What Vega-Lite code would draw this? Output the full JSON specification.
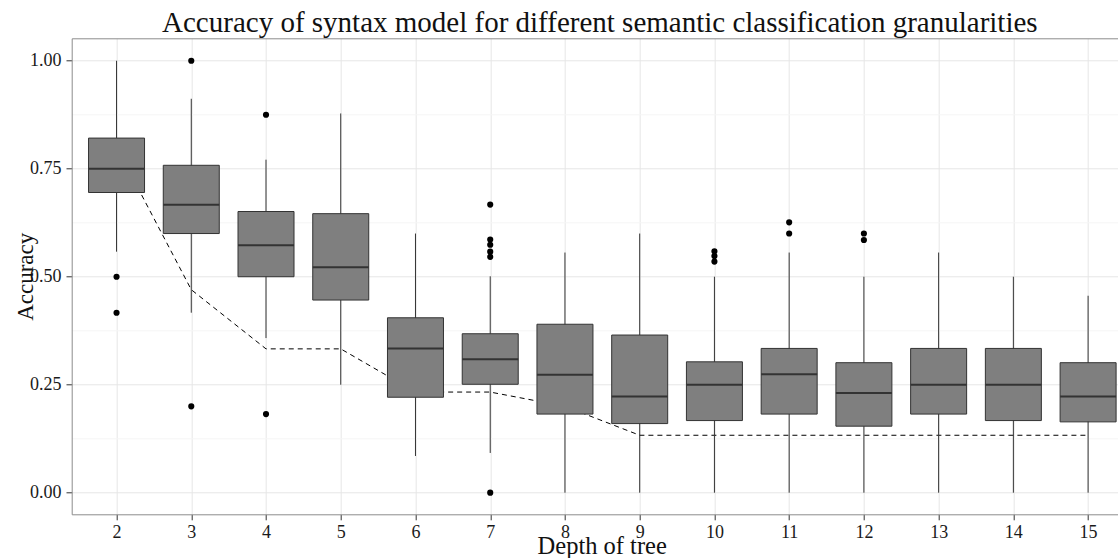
{
  "$schema": "https://vega.github.io/schema/vega-lite/v6.json",
  "width": 1046.3,
  "height": 476,
  "autosize": {"type": "none"},
  "padding": {"left": 71.7, "top": 38.3, "right": 0, "bottom": 43.7},
  "title": {
    "text": "Accuracy of syntax model for different semantic classification granularities",
    "font": "Liberation Serif",
    "fontSize": 29,
    "fontWeight": "normal",
    "color": "#111111",
    "anchor": "middle",
    "frame": "group",
    "baseline": "alphabetic",
    "offset": 5,
    "dy": 28,
    "dx": 5
  },
  "datasets": {
    "boxes": [
      {"depth": 2, "lo": 0.558, "q1": 0.695, "med": 0.75, "q3": 0.821, "hi": 1.0},
      {"depth": 3, "lo": 0.4167, "q1": 0.6, "med": 0.6667, "q3": 0.758, "hi": 0.912},
      {"depth": 4, "lo": 0.358, "q1": 0.5, "med": 0.573, "q3": 0.651, "hi": 0.771},
      {"depth": 5, "lo": 0.25, "q1": 0.446, "med": 0.522, "q3": 0.646, "hi": 0.878},
      {"depth": 6, "lo": 0.085, "q1": 0.221, "med": 0.334, "q3": 0.405, "hi": 0.6},
      {"depth": 7, "lo": 0.092, "q1": 0.251, "med": 0.309, "q3": 0.368, "hi": 0.501},
      {"depth": 8, "lo": 0.0, "q1": 0.182, "med": 0.273, "q3": 0.39, "hi": 0.556},
      {"depth": 9, "lo": 0.0, "q1": 0.16, "med": 0.223, "q3": 0.365, "hi": 0.6},
      {"depth": 10, "lo": 0.0, "q1": 0.167, "med": 0.25, "q3": 0.303, "hi": 0.5},
      {"depth": 11, "lo": 0.0, "q1": 0.182, "med": 0.274, "q3": 0.334, "hi": 0.556},
      {"depth": 12, "lo": 0.0, "q1": 0.154, "med": 0.231, "q3": 0.301, "hi": 0.5},
      {"depth": 13, "lo": 0.0, "q1": 0.182, "med": 0.25, "q3": 0.334, "hi": 0.556},
      {"depth": 14, "lo": 0.0, "q1": 0.167, "med": 0.25, "q3": 0.334, "hi": 0.5},
      {"depth": 15, "lo": 0.0, "q1": 0.164, "med": 0.223, "q3": 0.301, "hi": 0.456}
    ],
    "outliers": [
      {"depth": 2, "acc": 0.5},
      {"depth": 2, "acc": 0.4167},
      {"depth": 3, "acc": 1.0},
      {"depth": 3, "acc": 0.2},
      {"depth": 4, "acc": 0.875},
      {"depth": 4, "acc": 0.182},
      {"depth": 7, "acc": 0.667},
      {"depth": 7, "acc": 0.586},
      {"depth": 7, "acc": 0.574},
      {"depth": 7, "acc": 0.558},
      {"depth": 7, "acc": 0.546},
      {"depth": 7, "acc": 0.0},
      {"depth": 10, "acc": 0.559},
      {"depth": 10, "acc": 0.548},
      {"depth": 10, "acc": 0.535},
      {"depth": 11, "acc": 0.626},
      {"depth": 11, "acc": 0.6},
      {"depth": 12, "acc": 0.6},
      {"depth": 12, "acc": 0.585}
    ],
    "baseline": [
      {"depth": 2, "base": 0.8},
      {"depth": 3, "base": 0.47},
      {"depth": 4, "base": 0.333},
      {"depth": 5, "base": 0.333},
      {"depth": 6, "base": 0.233},
      {"depth": 7, "base": 0.233},
      {"depth": 8, "base": 0.2},
      {"depth": 9, "base": 0.133},
      {"depth": 10, "base": 0.133},
      {"depth": 11, "base": 0.133},
      {"depth": 12, "base": 0.133},
      {"depth": 13, "base": 0.133},
      {"depth": 14, "base": 0.133},
      {"depth": 15, "base": 0.133}
    ]
  },
  "layer": [
    {
      "data": {"name": "baseline"},
      "mark": {"type": "line", "color": "#000000", "strokeWidth": 1, "strokeDash": [5, 4], "clip": true},
      "encoding": {
        "x": {
          "field": "depth", "type": "quantitative",
          "scale": {"domain": [1.4, 15.4], "nice": false, "zero": false, "padding": 0},
          "axis": {
            "orient": "bottom",
            "values": [2, 3, 4, 5, 6, 7, 8, 9, 10, 11, 12, 13, 14, 15],
            "format": "d",
            "grid": true,
            "gridColor": "#e6e6e6",
            "domain": true,
            "domainColor": "#8c8c8c",
            "tickColor": "#333333",
            "tickSize": 5.5,
            "labelFont": "Liberation Serif",
            "labelFontSize": 18,
            "labelColor": "#1a1a1a",
            "labelBaseline": "alphabetic",
            "labelPadding": 18,
            "labelFlush": false,
            "labelOverlap": false,
            "title": "Depth of tree",
            "titleFont": "Liberation Serif",
            "titleFontSize": 24.5,
            "titleFontWeight": "normal",
            "titleColor": "#111111",
            "titleX": 530,
            "titleY": 39.5,
            "titleBaseline": "alphabetic",
            "titleAnchor": "middle"
          }
        },
        "y": {
          "field": "base", "type": "quantitative",
          "scale": {"domain": [-0.05, 1.052], "nice": false, "zero": false},
          "axis": {
            "values": [0, 0.125, 0.25, 0.375, 0.5, 0.625, 0.75, 0.875, 1],
            "labelExpr": "(datum.value * 4) % 1 === 0 ? format(datum.value, '.2f') : ''",
            "grid": true,
            "gridColor": {"condition": {"test": "(datum.value * 4) % 1 === 0", "value": "#e6e6e6"}, "value": "#f5f5f5"},
            "tickColor": {"condition": {"test": "(datum.value * 4) % 1 === 0", "value": "#333333"}, "value": "transparent"},
            "domain": true,
            "domainColor": "#8c8c8c",
            "tickSize": 5.7,
            "labelFont": "Liberation Serif",
            "labelFontSize": 18,
            "labelColor": "#1a1a1a",
            "labelPadding": 5,
            "labelOverlap": false,
            "title": "Accuracy",
            "titleFont": "Liberation Serif",
            "titleFontSize": 23,
            "titleFontWeight": "normal",
            "titleColor": "#111111",
            "titleAngle": -90,
            "titleX": -38.7,
            "titleY": 238,
            "titleBaseline": "alphabetic",
            "titleAlign": "center"
          }
        }
      }
    },
    {
      "data": {"name": "boxes"},
      "mark": {"type": "rule", "color": "#333333", "strokeWidth": 1},
      "encoding": {
        "x": {"field": "depth", "type": "quantitative",
          "axis": {"orient": "top", "labels": false, "ticks": false, "grid": false, "domain": true, "domainColor": "#8c8c8c", "title": null, "minExtent": 0, "maxExtent": 0}},
        "y": {"field": "lo", "type": "quantitative"},
        "y2": {"field": "hi"}
      }
    },
    {
      "data": {"name": "boxes"},
      "mark": {"type": "bar", "size": 56, "fill": "#7f7f7f", "stroke": "#333333", "strokeWidth": 1},
      "encoding": {
        "x": {"field": "depth", "type": "quantitative", "axis": null},
        "y": {"field": "q1", "type": "quantitative"},
        "y2": {"field": "q3"}
      }
    },
    {
      "data": {"name": "boxes"},
      "mark": {"type": "tick", "orient": "horizontal", "size": 56, "thickness": 2, "color": "#333333", "opacity": 1},
      "encoding": {
        "x": {"field": "depth", "type": "quantitative", "axis": null},
        "y": {"field": "med", "type": "quantitative"}
      }
    },
    {
      "data": {"name": "outliers"},
      "mark": {"type": "point", "filled": true, "size": 38, "color": "#000000", "opacity": 1},
      "encoding": {
        "x": {"field": "depth", "type": "quantitative", "axis": null},
        "y": {"field": "acc", "type": "quantitative"}
      }
    }
  ],
  "resolve": {"axis": {"x": "independent"}},
  "config": {
    "view": {"stroke": null},
    "background": "#ffffff"
  }
}
